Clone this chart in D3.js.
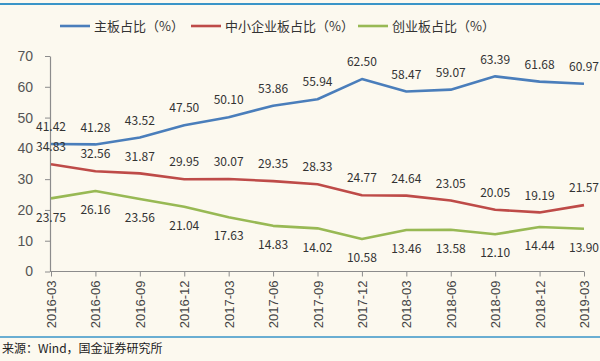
<!DOCTYPE html>
<html><head><meta charset="utf-8">
<script src="https://cdn.jsdelivr.net/npm/d3@7"></script>
<style>
html,body{margin:0;padding:0;background:#fcf9ef;}
svg{display:block;}
</style></head>
<body>
<svg id="c" width="600" height="361"></svg>
<script>
const categories = ["2016-03","2016-06","2016-09","2016-12","2017-03","2017-06","2017-09","2017-12","2018-03","2018-06","2018-09","2018-12","2019-03"];
const mainBoard = [41.42,41.28,43.52,47.50,50.10,53.86,55.94,62.50,58.47,59.07,63.39,61.68,60.97];
const smeBoard = [34.83,32.56,31.87,29.95,30.07,29.35,28.33,24.77,24.64,23.05,20.05,19.19,21.57];
const gemBoard = [23.75,26.16,23.56,21.04,17.63,14.83,14.02,10.58,13.46,13.58,12.10,14.44,13.90];
const seriesNames = ["主板占比（%）","中小企业板占比（%）","创业板占比（%）"];
const yTicks = [0,10,20,30,40,50,60,70];

const series = [
  {name: seriesNames[0], values: mainBoard, color: "#4a7ebb", dy: -17},
  {name: seriesNames[1], values: smeBoard, color: "#be4b48", dy: -17},
  {name: seriesNames[2], values: gemBoard, color: "#98b954", dy: 19}
];

const svg = d3.select("#c");
const font = "'Noto Sans CJK SC','Noto Sans',sans-serif";

// top/bottom rules
svg.append("line").attr("x1",0).attr("x2",600).attr("y1",4).attr("y2",4).attr("stroke","#3a95c8").attr("stroke-width",2);
svg.append("line").attr("x1",0).attr("x2",600).attr("y1",337).attr("y2",337).attr("stroke","#3a95c8").attr("stroke-width",1.5);

const x = d3.scalePoint().domain(categories).range([51,584]);
const y = d3.scaleLinear().domain([0,70]).range([271.5,56]);

// y axis
const yAxis = svg.append("g").attr("transform","translate(50,0)")
  .call(d3.axisLeft(y).tickValues(yTicks).tickSize(5).tickSizeOuter(0).tickPadding(12));
yAxis.select(".domain").attr("stroke","#8c8c8c").attr("stroke-width",1.2);
yAxis.selectAll(".tick line").attr("stroke","#8c8c8c");
yAxis.selectAll("text").attr("font-family","'Liberation Sans',Arial,sans-serif").attr("font-size",14).attr("fill","#555");

// x axis
const xAxis = svg.append("g").attr("transform","translate(0,271.5)")
  .call(d3.axisBottom(x).tickSize(5).tickSizeOuter(0).tickPadding(9));
xAxis.select(".domain").attr("stroke","#8c8c8c").attr("stroke-width",1.2).attr("d","M50,0H584");
xAxis.selectAll(".tick line").attr("stroke","#8c8c8c");
xAxis.selectAll("text")
  .attr("font-family","'Liberation Sans',Arial,sans-serif").attr("font-size",13).attr("fill","#444")
  .attr("transform","rotate(-90)").attr("text-anchor","end").attr("dx","-9").attr("dy","0.35em").attr("y",0);

const line = d3.line().x((d,i)=>x(categories[i])).y(d=>y(d));

series.forEach(s=>{
  svg.append("path").datum(s.values).attr("d",line).attr("fill","none")
    .attr("stroke",s.color).attr("stroke-width",2.6).attr("stroke-linejoin","round");
});
series.forEach(s=>{
  svg.append("g").selectAll("text").data(s.values).join("text")
    .attr("x",(d,i)=>x(categories[i])).attr("y",d=>y(d)+s.dy)
    .attr("dy","0.35em").attr("text-anchor","middle")
    .attr("font-family",font).attr("font-size",12).attr("fill","#333")
    .text(d=>d.toFixed(2));
});

// legend
const legendPos = [60,191,358];
series.forEach((s,i)=>{
  const g = svg.append("g").attr("transform",`translate(${legendPos[i]},26)`);
  g.append("line").attr("x1",0).attr("x2",30).attr("stroke",s.color).attr("stroke-width",2.6);
  g.append("text").attr("x",34).attr("dy","0.35em").attr("font-family",font).attr("font-size",13).attr("fill","#333").text(s.name);
});

// source
svg.append("text").attr("x",2).attr("y",353).attr("font-family",font).attr("font-size",12).attr("fill","#222").text("来源：Wind，国金证券研究所");
</script>
</body></html>
